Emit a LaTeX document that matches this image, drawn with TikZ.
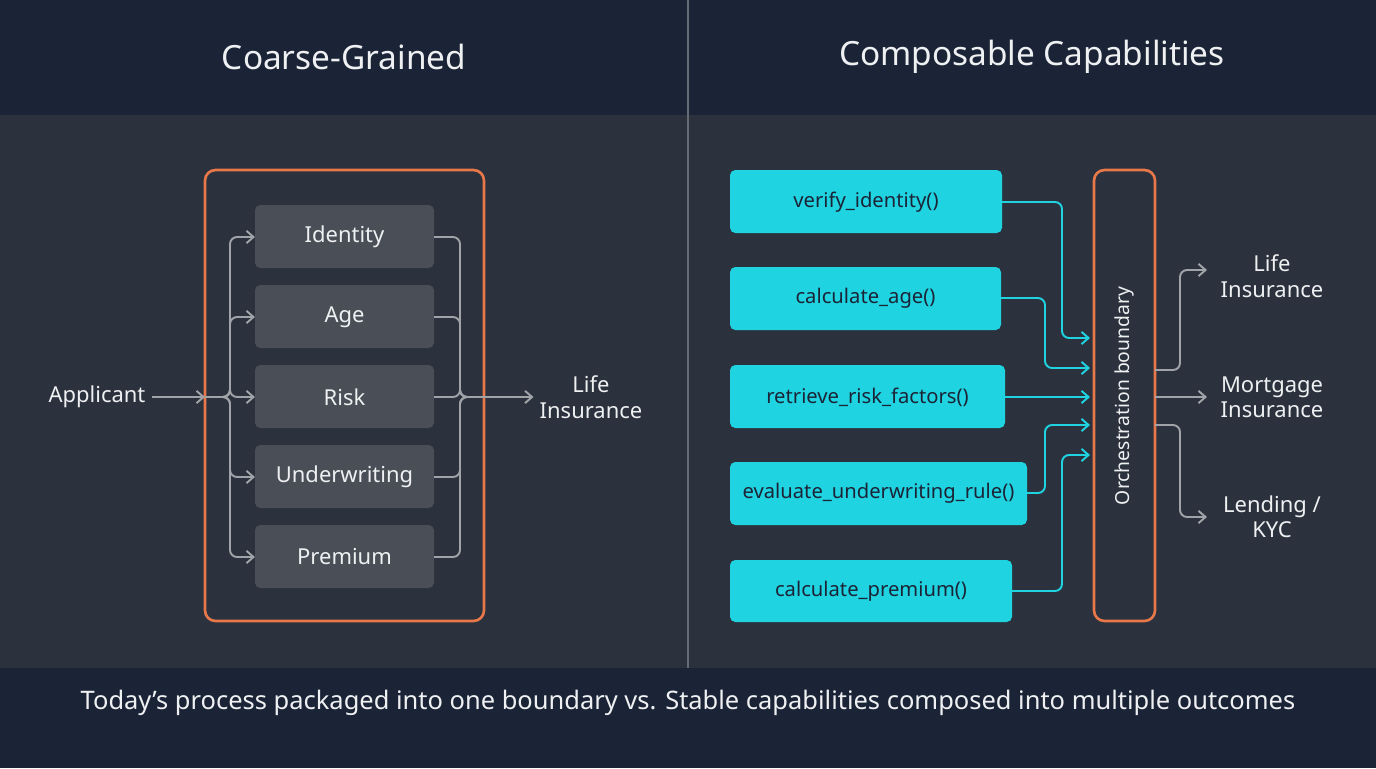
\documentclass[tikz,border=0pt]{standalone}
\usepackage{fontspec}
\setmainfont{Noto Sans}
\usetikzlibrary{arrows.meta}
\definecolor{navy}{HTML}{1B2436}
\definecolor{mid}{HTML}{2B323D}
\definecolor{gbox}{HTML}{4A4F57}
\definecolor{cyan}{HTML}{1FD3E0}
\definecolor{orng}{HTML}{E8784A}
\definecolor{gline}{HTML}{A0A4A8}
\definecolor{txt}{HTML}{EEF0F2}
\begin{document}
\begin{tikzpicture}[x=0.02cm,y=-0.02cm,
 gb/.style={fill=gbox,rounded corners=3pt,draw=none},
 cb/.style={fill=cyan,rounded corners=3pt,draw=none},
 gt/.style={text=txt,font=\fontsize{12.5}{14}\selectfont},
 ct/.style={text=navy,font=\fontsize{11.5}{13}\selectfont},
 ga/.style={draw=gline,line width=1.1pt,rounded corners=4pt,-{Straight Barb[length=4pt,width=7pt]}},
 gl/.style={draw=gline,line width=1.1pt,rounded corners=4pt},
 ca/.style={draw=cyan,line width=1.1pt,rounded corners=4pt,-{Straight Barb[length=4pt,width=7pt]}},
 ob/.style={draw=orng,line width=1.5pt,rounded corners=6pt}]
\useasboundingbox (0,0) rectangle (1376,768);
\fill[mid] (0,0) rectangle (1376,768);
\fill[navy] (0,0) rectangle (1376,115);
\fill[navy] (0,668) rectangle (1376,768);
\draw[gline!50!mid,line width=0.8pt] (688,0) -- (688,668);
\node[text=txt,font=\fontsize{19}{22}\selectfont] (t1) at (344,57) {Coarse-Grained};
\node[text=txt,font=\fontsize{19}{22}\selectfont] (t2) at (1032,57) {Composable Capabilities};
\node[text=txt,font=\fontsize{14.5}{17}\selectfont] (cap) at (688,703) {Today’s process packaged into one boundary vs. Stable capabilities composed into multiple outcomes};
% left
\draw[ob] (205,170) rectangle (484,621);
\foreach \n/\t/\y in {a/Identity/237,b/Age/317,c/Risk/397,d/Underwriting/477,e/Premium/557}{
 \fill[gb] (255,\y-32) rectangle (434,\y+31);
 \node[gt] (\n) at (344.5,\y) {\t};
 \coordinate (\n L) at (255,\y);
 \coordinate (\n R) at (434,\y);
}
\node[gt] (app) at (97,397) {Applicant};
\node[gt,align=center,font=\fontsize{12.5}{14.5}\selectfont] (li) at (591,397) {Life\\Insurance};
\coordinate (j) at (205,397);
\draw[ga] (app.east) -- (j);
\foreach \n in {a,b,c,d,e}{ \draw[ga] (j) -| (230,0|-\n L) -- (\n L); }
\foreach \n in {a,b,c,d,e}{ \draw[gl] (\n R) -- (460,0|-\n R) |- (482,397); }
\draw[ga] (480,397) -- (li.west);
% right
\draw[ob] (1094,170) rectangle (1155,621);
\node[rotate=90,text=txt,font=\fontsize{11}{13}\selectfont] (ob) at (1124.5,396) {Orchestration boundary};
\fill[cb] (730,170) rectangle (1002,233); \node[ct] (f1) at (866,202) {verify\_identity()};
\fill[cb] (730,267) rectangle (1001,330); \node[ct] (f2) at (865.5,298) {calculate\_age()};
\fill[cb] (730,365) rectangle (1005,428); \node[ct] (f3) at (867.5,397) {retrieve\_risk\_factors()};
\fill[cb] (730,462) rectangle (1027,525); \node[ct] (f4) at (878.5,493) {evaluate\_underwriting\_rule()};
\fill[cb] (730,560) rectangle (1012,622); \node[ct] (f5) at (871,591) {calculate\_premium()};
\draw[ca] (1002,202) -- (1062,202) |- (1090,338);
\draw[ca] (1001,298) -- (1045,298) |- (1090,368);
\draw[ca] (1005,397) -- (1090,397);
\draw[ca] (1027,493) -- (1045,493) |- (1090,425);
\draw[ca] (1012,591) -- (1062,591) |- (1090,455);
\node[gt,align=center,font=\fontsize{12.5}{14.5}\selectfont] (o1) at (1272,276) {Life\\Insurance};
\node[gt,align=center,font=\fontsize{12.5}{14.5}\selectfont] (o2) at (1272,397) {Mortgage\\Insurance};
\node[gt,align=center,font=\fontsize{12.5}{14.5}\selectfont] (o3) at (1272,517) {Lending /\\KYC};
\draw[ga] (1155,370) -- (1180,370) |- (1207,270);
\draw[ga] (1155,397) -- (1207,397);
\draw[ga] (1155,425) -- (1180,425) |- (1207,517);
\end{tikzpicture}
\end{document}
